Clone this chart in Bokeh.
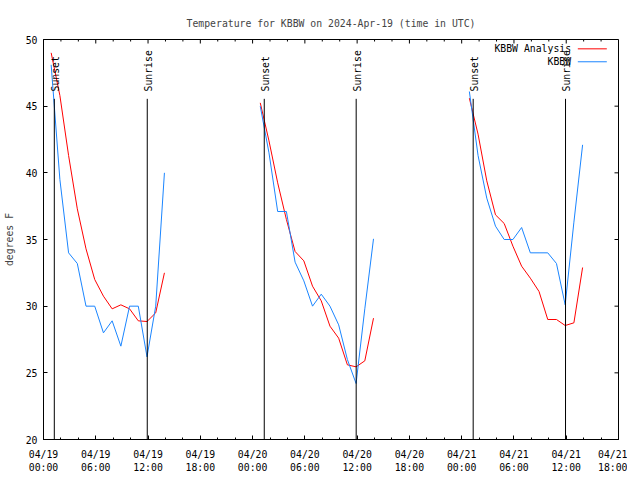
from bokeh.plotting import figure
from bokeh.models import Range1d, FixedTicker, Label, ColumnDataSource
from bokeh.embed import file_html
from bokeh.resources import INLINE

# ---- data (hours since 2024-04-19 00:00 UTC) ----
day1_hours = [0.88, 1.88, 2.88, 3.88, 4.88, 5.88, 6.88, 7.88, 8.88, 9.88, 10.88, 11.88, 12.88, 13.88]
day1_analysis = [49.0, 45.8, 41.3, 37.3, 34.3, 32.0, 30.75, 29.8, 30.1, 29.8, 28.9, 28.85, 29.5, 32.5]
day1_obs = [48.1, 39.5, 34.0, 33.2, 30.0, 30.0, 28.0, 28.9, 27.0, 30.0, 30.0, 26.2, 30.0, 40.0]

day2_hours = [24.88, 25.88, 26.88, 27.88, 28.88, 29.88, 30.88, 31.88, 32.88, 33.88, 34.88, 35.88, 36.88, 37.88]
day2_analysis = [45.25, 42.4, 39.25, 36.5, 34.1, 33.4, 31.5, 30.4, 28.5, 27.6, 25.6, 25.45, 25.9, 29.1]
day2_obs = [45.0, 41.5, 37.1, 37.1, 33.3, 31.9, 30.0, 30.9, 30.0, 28.6, 26.0, 24.2, 29.8, 35.05]

day3_hours = [48.88, 49.88, 50.88, 51.88, 52.88, 53.88, 54.88, 55.88, 56.88, 57.88, 58.88, 59.88, 60.88, 61.88]
day3_analysis = [45.6, 42.9, 39.4, 36.85, 36.2, 34.5, 33.0, 32.1, 31.1, 29.0, 29.0, 28.55, 28.75, 32.9]
day3_obs = [46.1, 41.3, 38.1, 36.0, 35.0, 35.0, 35.9, 34.0, 34.0, 34.0, 33.2, 30.1, 36.3, 42.1]

sunset_hours = [1.24, 25.34, 49.32]
sunrise_hours = [11.91, 35.89, 59.92]

x_tick_hours = [0, 6, 12, 18, 24, 30, 36, 42, 48, 54, 60, 66]
x_tick_labels = ["04/19\n00:00", "04/19\n06:00", "04/19\n12:00", "04/19\n18:00",
                 "04/20\n00:00", "04/20\n06:00", "04/20\n12:00", "04/20\n18:00",
                 "04/21\n00:00", "04/21\n06:00", "04/21\n12:00", "04/21\n18:00"]
x_minor_hours = [2, 4, 8, 10, 14, 16, 20, 22, 26, 28, 32, 34, 38, 40, 44, 46, 50, 52, 56, 58, 62, 64]
y_ticks = [20, 25, 30, 35, 40, 45, 50]

series_names = ["KBBW Analysis", "KBBW"]
series_colors = ["#ff0000", "#1a85ff"]
title_text = "Temperature for KBBW on 2024-Apr-19 (time in UTC)"

FONT = "DejaVu Sans Mono"
FS = "9.8px"
X0, X1, Y0, Y1 = 0, 66, 20, 50
FW, FH = 575, 400

p = figure(frame_width=FW, frame_height=FH, x_range=Range1d(X0, X1), y_range=Range1d(Y0, Y1),
           output_backend="svg", toolbar_location=None, title=title_text,
           min_border_left=40, min_border_right=9, min_border_top=39, min_border_bottom=30)
p.title.text_font = FONT
p.title.text_font_size = FS
p.title.text_font_style = "normal"
p.title.align = "center"
p.title.standoff = 21
p.xgrid.visible = False
p.ygrid.visible = False
p.outline_line_color = "black"
p.outline_line_alpha = 1.0
p.background_fill_color = "white"
p.border_fill_color = "white"

xt = FixedTicker(ticks=x_tick_hours, minor_ticks=x_minor_hours + x_tick_hours)
yt = FixedTicker(ticks=y_ticks, minor_ticks=[])

p.xaxis.ticker = xt
p.xaxis.major_label_overrides = {h: l for h, l in zip(x_tick_hours, x_tick_labels)}
p.yaxis.ticker = yt
p.yaxis.axis_label = "degrees F"
p.yaxis.axis_label_standoff = 8
p.yaxis.axis_label_text_font = FONT
p.yaxis.axis_label_text_font_size = FS
p.yaxis.axis_label_text_font_style = "normal"

for ax in list(p.xaxis) + list(p.yaxis):
    ax.major_tick_in = 4
    ax.major_tick_out = 0
    ax.minor_tick_in = 2
    ax.minor_tick_out = 0
    ax.major_tick_line_color = "black"
    ax.minor_tick_line_color = "black"
    ax.major_label_text_font = FONT
    ax.major_label_text_font_size = FS
    ax.major_label_text_color = "black"
    ax.axis_line_color = "black"
p.xaxis.major_label_standoff = 9
p.yaxis.major_label_standoff = 6

# mirrored ticks on the top and right borders (gnuplot style)
dy_major = 4 * (Y1 - Y0) / FH
dy_minor = 2 * (Y1 - Y0) / FH
dx_major = 4 * (X1 - X0) / FW
top_src = ColumnDataSource(dict(x=x_tick_hours + x_minor_hours,
                                y0=[Y1] * (len(x_tick_hours) + len(x_minor_hours)),
                                y1=[Y1 - dy_major] * len(x_tick_hours) + [Y1 - dy_minor] * len(x_minor_hours)))
p.segment(x0="x", y0="y0", x1="x", y1="y1", source=top_src, line_color="black", line_width=1)
right_src = ColumnDataSource(dict(y=y_ticks, x0=[X1] * len(y_ticks), x1=[X1 - dx_major] * len(y_ticks)))
p.segment(x0="x0", y0="y", x1="x1", y1="y", source=right_src, line_color="black", line_width=1)

for hrs, ana in [(day1_hours, day1_analysis), (day2_hours, day2_analysis), (day3_hours, day3_analysis)]:
    p.line(hrs, ana, line_color=series_colors[0], line_width=1)
for hrs, obs in [(day1_hours, day1_obs), (day2_hours, day2_obs), (day3_hours, day3_obs)]:
    p.line(hrs, obs, line_color=series_colors[1], line_width=1)

# sunset / sunrise markers
ev_x = sunset_hours + sunrise_hours
ev_txt = ["Sunset"] * len(sunset_hours) + ["Sunrise"] * len(sunrise_hours)
ev_src = ColumnDataSource(dict(x=ev_x, y0=[Y0] * len(ev_x), y1=[45.55] * len(ev_x)))
p.segment(x0="x", y0="y0", x1="x", y1="y1", source=ev_src, line_color="black", line_width=1)
for x, t in zip(ev_x, ev_txt):
    p.add_layout(Label(x=x + 0.12, y=46.1, text=t, angle=1.5708, text_align="left",
                       text_baseline="middle", text_font=FONT, text_font_size=FS,
                       text_color="black"))

# gnuplot-style key: text then line sample
key_y = [49.3, 48.33]
for name, col, ky in zip(series_names, series_colors, key_y):
    p.add_layout(Label(x=60.56, y=ky, text=name, text_align="right", text_baseline="middle",
                       text_font=FONT, text_font_size=FS, text_color="black"))
    p.line([61.33, 64.66], [ky, ky], line_color=col, line_width=1)

open("out.html", "w").write(file_html(p, INLINE))
